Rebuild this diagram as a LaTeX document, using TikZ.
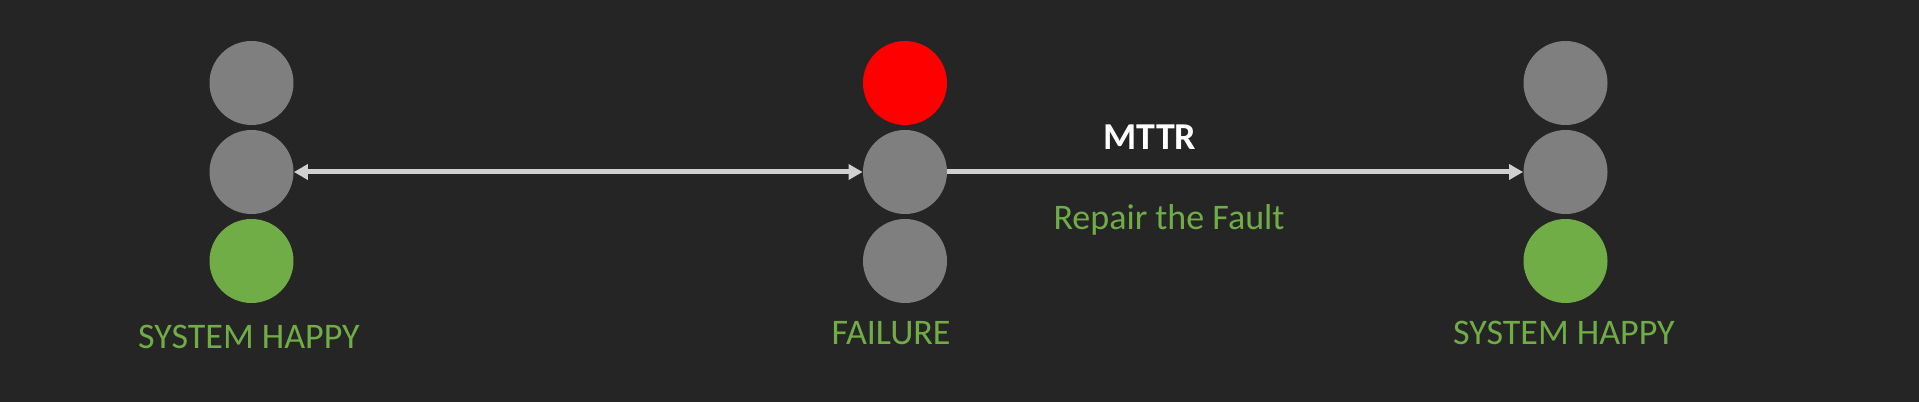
\documentclass[tikz,border=0pt]{standalone}
\usepackage{fontspec}
\setmainfont{Carlito}
\usetikzlibrary{arrows.meta}
\definecolor{bgdark}{HTML}{252525}
\definecolor{lampoff}{HTML}{7F7F7F}
\definecolor{lampred}{HTML}{FF0000}
\definecolor{lampgreen}{HTML}{70AD47}
\definecolor{arrowgray}{HTML}{D0D0D0}
\tikzset{
	lamp/.style={circle, draw=none, minimum size=42pt, inner sep=0pt},
	state/.style={anchor=base, text=lampgreen, font=\fontsize{18pt}{20pt}\selectfont},
	span/.style={draw=arrowgray, line width=2.5pt, -{Triangle[length=7pt,width=7.5pt]}},
}
\begin{document}
\begin{tikzpicture}[x=0.5pt,y=0.5pt]
		\fill[bgdark] (0,0) rectangle (1919,402);
		\useasboundingbox (0,0) rectangle (1919,402);
		% system happy
		\node[lamp, fill=lampoff] (a1) at (251.5,319) {};
		\node[lamp, fill=lampoff] (a2) at (251.5,230) {};
		\node[lamp, fill=lampgreen] (a3) at (251.5,141) {};
		% failure
		\node[lamp, fill=lampred] (b1) at (905,319) {};
		\node[lamp, fill=lampoff] (b2) at (905,230) {};
		\node[lamp, fill=lampoff] (b3) at (905,141) {};
		% system happy again
		\node[lamp, fill=lampoff] (c1) at (1565.5,319) {};
		\node[lamp, fill=lampoff] (c2) at (1565.5,230) {};
		\node[lamp, fill=lampgreen] (c3) at (1565.5,141) {};
		\node[state] (ta) at (249,54) {SYSTEM HAPPY};
		\node[state] (tb) at (891,57) {FAILURE};
		\node[state] (tc) at (1564,57) {SYSTEM HAPPY};
		\draw[span, {Triangle[length=7pt,width=7.5pt]}-{Triangle[length=7pt,width=7.5pt]}] (a2) -- (b2);
		\draw[span] (b2) -- (c2);
		\node[anchor=base, text=white, font=\fontsize{19pt}{21pt}\selectfont\bfseries] (mttr) at (1150,252) {MTTR};
		\node[state] (fix) at (1169,172) {Repair the Fault};
	\end{tikzpicture}
\end{document}
